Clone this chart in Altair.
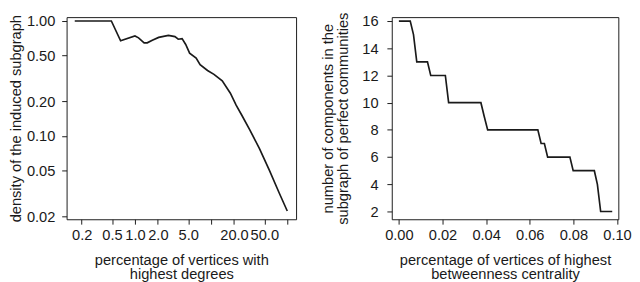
import altair as alt
import pandas as pd

# ---- left panel data ----
deg_pct = [0.162, 0.49, 0.648, 1.0, 1.115, 1.32, 1.45, 1.69, 2.05, 2.75, 3.35, 3.70,
           4.16, 4.64, 5.22, 6.36, 7.17, 8.97, 10.9, 14.0, 17.9, 21.3, 25.2, 32.2,
           43.3, 58.3, 78.4, 100.0]
density = [1.0, 1.0, 0.672, 0.741, 0.713, 0.646, 0.646, 0.68, 0.72, 0.75, 0.731, 0.694,
           0.703, 0.625, 0.525, 0.476, 0.417, 0.371, 0.343, 0.301, 0.235, 0.185, 0.152,
           0.113, 0.077, 0.050, 0.0318, 0.0222]
left_xticks = [0.2, 0.5, 1, 2, 5, 10, 20, 50, 100]
left_yticks = [0.02, 0.05, 0.1, 0.2, 0.5, 1.0]

# ---- right panel data ----
btw_pct = [0.0, 0.0052, 0.0067, 0.0082, 0.0131, 0.0146, 0.0213, 0.0228, 0.0376, 0.0391,
           0.0407, 0.0637, 0.0652, 0.0667, 0.0682, 0.0784, 0.0799, 0.0896, 0.0910,
           0.0925, 0.0978]
components = [16, 16, 15, 13, 13, 12, 12, 10, 10, 9, 8, 8, 7, 7, 6, 6, 5, 5, 4, 2, 2]
right_xticks = [0.0, 0.02, 0.04, 0.06, 0.08, 0.10]
right_yticks = [2, 4, 6, 8, 10, 12, 14, 16]

FONT = "Liberation Sans"
INK = "#1a1a1a"

df_l = pd.DataFrame({"x": deg_pct, "y": density, "i": range(len(deg_pct))})
df_r = pd.DataFrame({"x": btw_pct, "y": components, "i": range(len(btw_pct))})

left = alt.Chart(df_l).mark_line(color=INK, strokeWidth=1.7).encode(
    x=alt.X("x:Q",
            scale=alt.Scale(type="log", domain=[0.1266, 130.5], nice=False),
            axis=alt.Axis(values=left_xticks, format=".1f",
                          labelExpr="(datum.value == 10 || datum.value == 100) ? '' : datum.label",
                          title=["percentage of vertices with", "highest degrees"],
                          labelOverlap=False, labelFlush=False, labelPadding=4,
                          titlePadding=10)),
    y=alt.Y("y:Q",
            scale=alt.Scale(type="log", domain=[0.0188, 1.081], nice=False),
            axis=alt.Axis(values=left_yticks, format=".2f",
                          title="density of the induced subgraph",
                          labelOverlap=False, labelFlush=False, labelPadding=7,
                          titlePadding=3)),
    order="i:O",
).properties(width=235, height=207)

right = alt.Chart(df_r).mark_line(color=INK, strokeWidth=1.7).encode(
    x=alt.X("x:Q",
            scale=alt.Scale(domain=[-0.00326, 0.1006], nice=False, zero=False),
            axis=alt.Axis(values=right_xticks, format=".2f",
                          title=["percentage of vertices of highest", "betweenness centrality"],
                          labelOverlap=False, labelFlush=False, labelPadding=4,
                          titlePadding=10)),
    y=alt.Y("y:Q",
            scale=alt.Scale(domain=[1.43, 16.29], nice=False, zero=False),
            axis=alt.Axis(values=right_yticks, format="d",
                          title=["number of components in the", "subgraph of perfect communities"],
                          labelOverlap=False, labelFlush=False, labelPadding=9,
                          titlePadding=12)),
    order="i:O",
).properties(width=232, height=207)

chart = alt.hconcat(left, right, spacing=23).properties(padding=0).configure_view(
    stroke=INK, strokeWidth=1
).configure_axis(
    domain=False, grid=False, ticks=True, tickSize=5, tickColor=INK, tickWidth=1,
    labelFont=FONT, labelFontSize=15, labelColor=INK,
    titleFont=FONT, titleFontSize=15, titleFontWeight="normal", titleColor=INK,
    titleLineHeight=15,
)

chart.save("out.html", embed_options={"renderer": "svg", "actions": False})
